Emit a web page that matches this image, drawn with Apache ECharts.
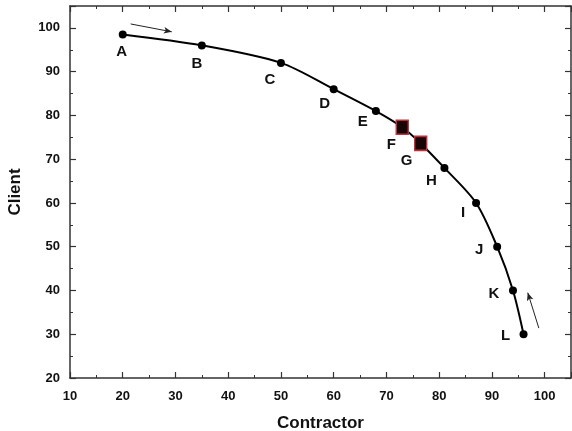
<!DOCTYPE html>
<html>
<head>
<meta charset="utf-8">
<script src="https://cdn.jsdelivr.net/npm/echarts@6/dist/echarts.min.js"></script>
<style>
    html, body { margin: 0; padding: 0; background: #fff; }
    #main { width: 572px; height: 431px; }
</style>
</head>
<body>
<div id="main"></div>
<script>
// points along the curve (Contractor, Client)
var pointNames = ['A', 'B', 'C', 'D', 'E', 'F', 'G', 'H', 'I', 'J', 'K', 'L'];
var contractorVals = [20, 35, 50, 60, 68, 73, 76.5, 81, 87, 91, 94, 96];
var clientVals = [98.5, 96, 92, 86, 81, 77.3, 73.6, 68, 60, 50, 40, 30];
// F and G are drawn as squares
var squarePoints = ['F', 'G'];
// direction arrows (from -> to) in data units
var arrowTop = [[21.5, 100.9], [29.3, 99.1]];
var arrowBottom = [[98.9, 31.4], [96.8, 39.5]];

// label offsets in px (styling, not data)
var labelOffsets = [[-1, 17], [-5, 18], [-11, 17], [-9, 15], [-13, 11], [-11, 18],
    [-14, 17], [-13, 13], [-13, 10], [-18, 3], [-19, 3], [-18, 2]];

var fontFam = '"Liberation Sans", Arial, sans-serif';

var curveData = [];
for (var i = 0; i < pointNames.length; i++) {
    var isSq = squarePoints.indexOf(pointNames[i]) >= 0;
    curveData.push({
        name: pointNames[i],
        value: [contractorVals[i], clientVals[i]],
        symbol: isSq ? 'rect' : 'circle',
        symbolSize: isSq ? [12, 14] : 8,
        itemStyle: isSq ? { color: '#180606', borderColor: '#c0303a', borderWidth: 1.5 }
                        : { color: '#000', borderWidth: 0 },
        label: { offset: labelOffsets[i] }
    });
}

var tickLine = { color: '#333', width: 1.2 };

function makeX(pos, showLabel) {
    return {
        type: 'value', position: pos, min: 10, max: 105, interval: 10,
        axisLine: { show: true, onZero: false, lineStyle: { color: '#333', width: 1.5 } },
        axisTick: { show: true, inside: true, length: 6, lineStyle: tickLine },
        minorTick: { show: true, splitNumber: 2, length: 3, lineStyle: { color: '#333', width: 1 } },
        splitLine: { show: false },
        axisLabel: {
            show: showLabel, showMaxLabel: false, margin: 12,
            fontFamily: fontFam, fontWeight: 'bold', fontSize: 13, color: '#111'
        },
        name: showLabel ? 'Contractor' : '',
        nameLocation: 'middle', nameGap: 37,
        nameTextStyle: { fontFamily: fontFam, fontWeight: 'bold', fontSize: 17, color: '#111' }
    };
}

function makeY(pos, showLabel) {
    return {
        type: 'value', position: pos, min: 20, max: 105, interval: 10,
        axisLine: { show: true, onZero: false, lineStyle: { color: '#333', width: 1.5 } },
        axisTick: { show: true, inside: true, length: 6, lineStyle: tickLine },
        minorTick: { show: true, splitNumber: 2, length: 3, lineStyle: { color: '#333', width: 1 } },
        splitLine: { show: false },
        axisLabel: {
            show: showLabel, showMaxLabel: false, margin: 10,
            fontFamily: fontFam, fontWeight: 'bold', fontSize: 13, color: '#111'
        },
        name: showLabel ? 'Client' : '',
        nameLocation: 'middle', nameGap: 46,
        nameTextStyle: { fontFamily: fontFam, fontWeight: 'bold', fontSize: 17, color: '#111' }
    };
}

var myChart = echarts.init(document.getElementById('main'));
myChart.setOption({
    backgroundColor: '#fff',
    animation: false,
    grid: { left: 70, right: 1, top: 6, bottom: 53, containLabel: false, outerBoundsMode: 'none' },
    xAxis: [makeX('bottom', true), makeX('top', false)],
    yAxis: [makeY('left', true), makeY('right', false)],
    series: [{
        type: 'line',
        data: curveData,
        smooth: 0.3,
        lineStyle: { color: '#000', width: 2 },
        label: {
            show: true,
            position: 'inside',
            formatter: '{b}',
            fontFamily: fontFam, fontWeight: 'bold', fontSize: 15, color: '#111'
        },
        z: 3
    }, {
        type: 'line',
        data: [],
        markLine: {
            silent: true,
            symbol: ['none', 'arrow'],
            symbolSize: [5, 8],
            label: { show: false },
            lineStyle: { color: '#222', width: 1, type: 'solid' },
            data: [
                [{ coord: arrowTop[0] }, { coord: arrowTop[1] }],
                [{ coord: arrowBottom[0] }, { coord: arrowBottom[1] }]
            ]
        }
    }]
});
</script>
</body>
</html>
